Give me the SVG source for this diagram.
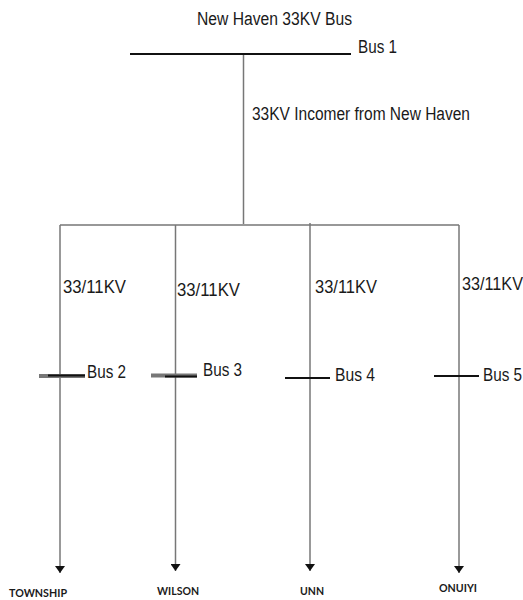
<svg xmlns="http://www.w3.org/2000/svg" width="523" height="600" viewBox="0 0 523 600">
<style>
.l{stroke:#777;stroke-width:1.5;fill:none}
.b{stroke:#111;stroke-width:2;fill:none}
.g{stroke:#777;stroke-width:4;fill:none}
text{font-family:"Liberation Sans",Arial,sans-serif;fill:#1a1a1a}
.t{font-size:18px}
.s{font-family:Lato,"Liberation Sans",sans-serif;font-size:12px;font-weight:bold}
</style>
<defs><marker id="a" markerWidth="8" markerHeight="10" refX="7" refY="5" orient="auto" markerUnits="userSpaceOnUse"><path d="M0 0L7 5L0 10Z" transform="rotate(0)" fill="#111"/></marker></defs>
<rect width="523" height="600" fill="#fff"/>
<g id="connectors">
<path class="l" d="M243.500 55V224M60 225H459"/>
<path class="l" d="M60 225V573" marker-end="url(#a)"/>
<path class="l" d="M175.500 225V571" marker-end="url(#a)"/>
<path class="l" d="M310 223V571" marker-end="url(#a)"/>
<path class="l" d="M459 225V573" marker-end="url(#a)"/>
</g>
<g id="bus1"><path class="b" d="M130 54H351"/><text class="t" x="358" y="53" textLength="39" lengthAdjust="spacingAndGlyphs">Bus 1</text></g>
<g id="newhaven"><text class="t" x="197" y="25" textLength="155" lengthAdjust="spacingAndGlyphs">New Haven 33KV Bus</text></g>
<g id="incomer"><text class="t" x="252" y="120" textLength="218" lengthAdjust="spacingAndGlyphs">33KV Incomer from New Haven</text></g>
<g id="bus2"><path class="g" d="M39 376H85" stroke-width="3"/><path class="b" d="M48 375.500H85"/><text class="t" x="87" y="378" textLength="39" lengthAdjust="spacingAndGlyphs">Bus 2</text><text class="t" x="63" y="293" textLength="63" lengthAdjust="spacingAndGlyphs">33/11KV</text></g>
<g id="bus3"><path class="g" d="M151 375.500H197"/><path class="b" d="M165 376.500H197"/><text class="t" x="203" y="376" textLength="39" lengthAdjust="spacingAndGlyphs">Bus 3</text><text class="t" x="177" y="296" textLength="63" lengthAdjust="spacingAndGlyphs">33/11KV</text></g>
<g id="bus4"><path class="b" d="M285 378H330"/><text class="t" x="335" y="381" textLength="40" lengthAdjust="spacingAndGlyphs">Bus 4</text><text class="t" x="315" y="293" textLength="62" lengthAdjust="spacingAndGlyphs">33/11KV</text></g>
<g id="bus5"><path class="b" d="M434 376H479"/><text class="t" x="483" y="381" textLength="39" lengthAdjust="spacingAndGlyphs">Bus 5</text><text class="t" x="462" y="290" textLength="61" lengthAdjust="spacingAndGlyphs">33/11KV</text></g>
<g id="township"><text class="s" x="9" y="597" textLength="58" lengthAdjust="spacingAndGlyphs">TOWNSHIP</text></g>
<g id="wilson"><text class="s" x="157" y="595" textLength="42" lengthAdjust="spacingAndGlyphs">WILSON</text></g>
<g id="unn"><text class="s" x="300" y="595" textLength="24" lengthAdjust="spacingAndGlyphs">UNN</text></g>
<g id="onuiyi"><text class="s" x="439" y="592" textLength="38" lengthAdjust="spacingAndGlyphs">ONUIYI</text></g>
</svg>
